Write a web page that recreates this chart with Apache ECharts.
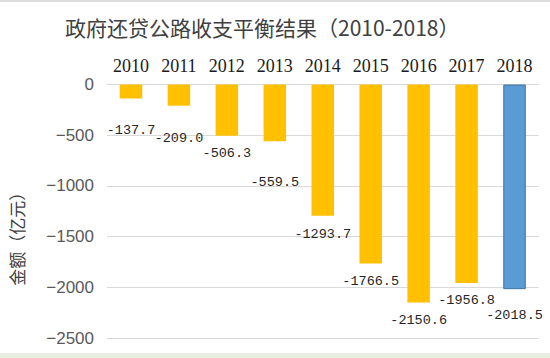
<!DOCTYPE html>
<html>
<head>
<meta charset="utf-8">
<script src="https://cdn.jsdelivr.net/npm/echarts@6/dist/echarts.min.js"></script>
<style>
html,body{margin:0;padding:0;background:#fff;}
#c{width:550px;height:358px;}
</style>
</head>
<body>
<div id="c"></div>
<script>
var categories = ['2010','2011','2012','2013','2014','2015','2016','2017','2018'];
var values = [-137.7, -209.0, -506.3, -559.5, -1293.7, -1766.5, -2150.6, -1956.8, -2018.5];
var yTicks = [0, -500, -1000, -1500, -2000, -2500];

// layout-only: extra vertical nudge of each data label (px)
var labelNudge = [14, 15, 0, 23, 1, 0, 0, 0, 8];

var monoFont = '"Liberation Mono","DejaVu Sans Mono",monospace';

var barData = values.map(function (v, i) {
  var item = {
    value: v,
    label: { offset: [0, labelNudge[i]] }
  };
  if (i === values.length - 1) {
    item.itemStyle = { color: '#5B9BD5', borderColor: '#41719C', borderWidth: 1 };
  }
  return item;
});

var chart = echarts.init(document.getElementById('c'), null, { renderer: 'svg' });
chart.setOption({
  animation: false,
  backgroundColor: '#ffffff',
  title: {
    text: '政府还贷公路收支平衡结果（2010-2018）',
    left: 60,
    top: 11,
    textStyle: {
      fontFamily: '"Noto Sans CJK SC","Noto Sans",sans-serif',
      fontSize: 21,
      fontWeight: 'normal',
      color: '#404040'
    }
  },
  graphic: [
    { type: 'rect', shape: { x: 0, y: 0, width: 550, height: 2 }, style: { fill: '#dcdcdc' }, silent: true },
    { type: 'rect', shape: { x: 0, y: 353, width: 550, height: 5 }, style: { fill: '#e5eedf' }, silent: true }
  ],
  grid: { left: 105, right: 11.5, top: 84.5, bottom: 20, containLabel: false },
  xAxis: {
    type: 'category',
    position: 'top',
    data: categories,
    axisLine: { show: true, lineStyle: { color: '#d9d9d9', width: 1 } },
    axisTick: { show: false },
    axisLabel: {
      interval: 0,
      margin: 10,
      color: '#1a1a1a',
      fontFamily: '"Liberation Serif","DejaVu Serif",serif',
      fontWeight: 400,
      fontSize: 18
    }
  },
  yAxis: {
    type: 'value',
    min: yTicks[yTicks.length - 1],
    max: yTicks[0],
    interval: 500,
    name: '金额（亿元）',
    nameLocation: 'middle',
    nameGap: 82,
    nameRotate: 90,
    nameTextStyle: {
      fontFamily: '"Noto Sans CJK SC",sans-serif',
      fontSize: 17,
      color: '#404040',
      padding: [0, 47, 0, 0]
    },
    axisLine: { show: false },
    axisTick: { show: false },
    splitLine: { lineStyle: { color: '#d9d9d9', width: 1 } },
    axisLabel: {
      margin: 13,
      color: '#595959',
      fontFamily: '"Liberation Sans",Arial,sans-serif',
      fontSize: 17,
      formatter: function (v) { return String(v).replace('-', '\u2212'); }
    }
  },
  series: [{
    type: 'bar',
    data: barData,
    barWidth: 22.5,
    itemStyle: { color: '#FFC000' },
    label: {
      show: true,
      position: 'bottom',
      distance: 11,
      color: '#262626',
      fontFamily: monoFont,
      fontSize: 13.5,
      formatter: function (p) { return p.value.toFixed(1); }
    }
  }]
});
</script>
</body>
</html>
